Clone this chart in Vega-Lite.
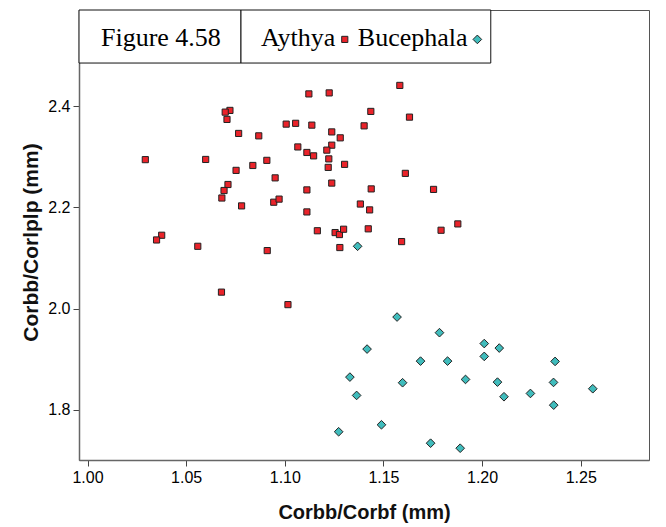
{
  "$schema": "https://vega.github.io/schema/vega-lite/v6.json",
  "width": 570,
  "height": 450,
  "autosize": "none",
  "padding": {"left": 79, "top": 10, "right": 17, "bottom": 67},
  "background": "white",
  "config": {
    "view": {"stroke": "#555555", "strokeWidth": 1},
    "axis": {"grid": false, "domainColor": "#666666", "domainWidth": 1.5, "tickColor": "#444444", "tickSize": 6, "labelFont": "Liberation Sans", "labelFontSize": 16, "labelColor": "#000000", "titleFont": "Liberation Sans", "titleFontSize": 20, "titleFontWeight": "bold", "titleColor": "#111111"}
  },
  "datasets": {
    "points": [
      {"species": "Aythya", "corbf": 1.0293, "corlplp": 2.2942},
      {"species": "Aythya", "corbf": 1.0599, "corlplp": 2.2946},
      {"species": "Aythya", "corbf": 1.0909, "corlplp": 2.2928},
      {"species": "Aythya", "corbf": 1.0838, "corlplp": 2.2827},
      {"species": "Aythya", "corbf": 1.0753, "corlplp": 2.2730},
      {"species": "Aythya", "corbf": 1.0951, "corlplp": 2.2582},
      {"species": "Aythya", "corbf": 1.0712, "corlplp": 2.2451},
      {"species": "Aythya", "corbf": 1.0692, "corlplp": 2.2332},
      {"species": "Aythya", "corbf": 1.0681, "corlplp": 2.2184},
      {"species": "Aythya", "corbf": 1.0781, "corlplp": 2.2028},
      {"species": "Aythya", "corbf": 1.0944, "corlplp": 2.2101},
      {"species": "Aythya", "corbf": 1.0971, "corlplp": 2.2162},
      {"species": "Aythya", "corbf": 1.0376, "corlplp": 2.1448},
      {"species": "Aythya", "corbf": 1.0350, "corlplp": 2.1355},
      {"species": "Aythya", "corbf": 1.0559, "corlplp": 2.1230},
      {"species": "Aythya", "corbf": 1.0911, "corlplp": 2.1145},
      {"species": "Aythya", "corbf": 1.0679, "corlplp": 2.0324},
      {"species": "Aythya", "corbf": 1.1016, "corlplp": 2.0077},
      {"species": "Aythya", "corbf": 1.1122, "corlplp": 2.4241},
      {"species": "Aythya", "corbf": 1.1225, "corlplp": 2.4261},
      {"species": "Aythya", "corbf": 1.0722, "corlplp": 2.3915},
      {"species": "Aythya", "corbf": 1.0698, "corlplp": 2.3881},
      {"species": "Aythya", "corbf": 1.0707, "corlplp": 2.3737},
      {"species": "Aythya", "corbf": 1.1436, "corlplp": 2.3895},
      {"species": "Aythya", "corbf": 1.1007, "corlplp": 2.3644},
      {"species": "Aythya", "corbf": 1.1055, "corlplp": 2.3660},
      {"species": "Aythya", "corbf": 1.1137, "corlplp": 2.3624},
      {"species": "Aythya", "corbf": 1.1402, "corlplp": 2.3610},
      {"species": "Aythya", "corbf": 1.0766, "corlplp": 2.3460},
      {"species": "Aythya", "corbf": 1.0868, "corlplp": 2.3412},
      {"species": "Aythya", "corbf": 1.1238, "corlplp": 2.3490},
      {"species": "Aythya", "corbf": 1.1281, "corlplp": 2.3373},
      {"species": "Aythya", "corbf": 1.1238, "corlplp": 2.3228},
      {"species": "Aythya", "corbf": 1.1066, "corlplp": 2.3193},
      {"species": "Aythya", "corbf": 1.1112, "corlplp": 2.3084},
      {"species": "Aythya", "corbf": 1.1146, "corlplp": 2.3017},
      {"species": "Aythya", "corbf": 1.1213, "corlplp": 2.3130},
      {"species": "Aythya", "corbf": 1.1223, "corlplp": 2.2957},
      {"species": "Aythya", "corbf": 1.1220, "corlplp": 2.2789},
      {"species": "Aythya", "corbf": 1.1303, "corlplp": 2.2849},
      {"species": "Aythya", "corbf": 1.1112, "corlplp": 2.2344},
      {"species": "Aythya", "corbf": 1.1238, "corlplp": 2.2479},
      {"species": "Aythya", "corbf": 1.1438, "corlplp": 2.2364},
      {"species": "Aythya", "corbf": 1.1383, "corlplp": 2.2065},
      {"species": "Aythya", "corbf": 1.1430, "corlplp": 2.1949},
      {"species": "Aythya", "corbf": 1.1112, "corlplp": 2.1909},
      {"species": "Aythya", "corbf": 1.1165, "corlplp": 2.1537},
      {"species": "Aythya", "corbf": 1.1255, "corlplp": 2.1501},
      {"species": "Aythya", "corbf": 1.1277, "corlplp": 2.1462},
      {"species": "Aythya", "corbf": 1.1298, "corlplp": 2.1567},
      {"species": "Aythya", "corbf": 1.1423, "corlplp": 2.1575},
      {"species": "Aythya", "corbf": 1.1279, "corlplp": 2.1205},
      {"species": "Aythya", "corbf": 1.1583, "corlplp": 2.4409},
      {"species": "Aythya", "corbf": 1.1632, "corlplp": 2.3782},
      {"species": "Aythya", "corbf": 1.1611, "corlplp": 2.2671},
      {"species": "Aythya", "corbf": 1.1754, "corlplp": 2.2354},
      {"species": "Aythya", "corbf": 1.1877, "corlplp": 2.1672},
      {"species": "Aythya", "corbf": 1.1792, "corlplp": 2.1547},
      {"species": "Aythya", "corbf": 1.1592, "corlplp": 2.1323},
      {"species": "Bucephala", "corbf": 1.1369, "corlplp": 2.1230},
      {"species": "Bucephala", "corbf": 1.1569, "corlplp": 1.9832},
      {"species": "Bucephala", "corbf": 1.1784, "corlplp": 1.9523},
      {"species": "Bucephala", "corbf": 1.1417, "corlplp": 1.9199},
      {"species": "Bucephala", "corbf": 1.2011, "corlplp": 1.9308},
      {"species": "Bucephala", "corbf": 1.2087, "corlplp": 1.9219},
      {"species": "Bucephala", "corbf": 1.1688, "corlplp": 1.8961},
      {"species": "Bucephala", "corbf": 1.1825, "corlplp": 1.8961},
      {"species": "Bucephala", "corbf": 1.2011, "corlplp": 1.9054},
      {"species": "Bucephala", "corbf": 1.1330, "corlplp": 1.8645},
      {"species": "Bucephala", "corbf": 1.1597, "corlplp": 1.8534},
      {"species": "Bucephala", "corbf": 1.1916, "corlplp": 1.8599},
      {"species": "Bucephala", "corbf": 1.1364, "corlplp": 1.8283},
      {"species": "Bucephala", "corbf": 1.1490, "corlplp": 1.7703},
      {"species": "Bucephala", "corbf": 1.1273, "corlplp": 1.7565},
      {"species": "Bucephala", "corbf": 1.1739, "corlplp": 1.7339},
      {"species": "Bucephala", "corbf": 1.1889, "corlplp": 1.7240},
      {"species": "Bucephala", "corbf": 1.2370, "corlplp": 1.8955},
      {"species": "Bucephala", "corbf": 1.2078, "corlplp": 1.8546},
      {"species": "Bucephala", "corbf": 1.2362, "corlplp": 1.8540},
      {"species": "Bucephala", "corbf": 1.2561, "corlplp": 1.8415},
      {"species": "Bucephala", "corbf": 1.2111, "corlplp": 1.8257},
      {"species": "Bucephala", "corbf": 1.2245, "corlplp": 1.8322},
      {"species": "Bucephala", "corbf": 1.2363, "corlplp": 1.8091}
    ]
  },
  "layer": [
    {
      "data": {"name": "points"},
      "mark": {"type": "point", "filled": true, "opacity": 1, "stroke": "#222222", "strokeWidth": 1},
      "encoding": {
        "x": {"field": "corbf", "type": "quantitative", "title": "Corbb/Corbf (mm)",
              "scale": {"domain": [0.99569, 1.2846], "nice": false, "zero": false},
              "axis": {"values": [1.0, 1.05, 1.1, 1.15, 1.2, 1.25], "format": ".2f", "labelPadding": 3, "titleY": 58, "titleBaseline": "alphabetic"}},
        "y": {"field": "corlplp", "type": "quantitative", "title": "Corbb/Corlplp (mm)",
              "scale": {"domain": [1.7007, 2.5899], "nice": false, "zero": false},
              "axis": {"values": [1.8, 2.0, 2.2, 2.4], "format": ".1f", "labelPadding": 3, "titleX": -42, "titleY": 232, "titleFontSize": 21, "titleBaseline": "alphabetic"}},
        "color": {"field": "species", "type": "nominal", "scale": {"domain": ["Aythya", "Bucephala"], "range": ["#ea232a", "#40bcbc"]}, "legend": null},
        "shape": {"field": "species", "type": "nominal", "scale": {"domain": ["Aythya", "Bucephala"], "range": ["square", "diamond"]}, "legend": null},
        "size": {"field": "species", "type": "nominal", "scale": {"domain": ["Aythya", "Bucephala"], "range": [38, 75]}, "legend": null}
      }
    },
    {
      "data": {"values": [{}]},
      "mark": {"type": "rect", "fill": "white", "stroke": "#111111", "strokeWidth": 1},
      "encoding": {
        "x": {"datum": 0.99569, "type": "quantitative"},
        "x2": {"datum": 1.0778},
        "y": {"datum": 2.5899, "type": "quantitative"},
        "y2": {"datum": 2.4851}
      }
    },
    {
      "data": {"values": [{}]},
      "mark": {"type": "rect", "fill": "white", "stroke": "#111111", "strokeWidth": 1},
      "encoding": {
        "x": {"datum": 1.0778, "type": "quantitative"},
        "x2": {"datum": 1.2044},
        "y": {"datum": 2.5899, "type": "quantitative"},
        "y2": {"datum": 2.4851}
      }
    },
    {
      "data": {"values": [{}]},
      "mark": {"type": "text", "font": "Liberation Serif", "fontSize": 26, "align": "center", "baseline": "alphabetic", "color": "#000000", "text": "Figure 4.58"},
      "encoding": {
        "x": {"datum": 1.0372, "type": "quantitative"},
        "y": {"datum": 2.5193, "type": "quantitative"}
      }
    },
    {
      "data": {"values": [{}]},
      "mark": {"type": "text", "font": "Liberation Serif", "fontSize": 26, "align": "left", "baseline": "alphabetic", "color": "#000000", "text": "Aythya"},
      "encoding": {
        "x": {"datum": 1.088, "type": "quantitative"},
        "y": {"datum": 2.5193, "type": "quantitative"}
      }
    },
    {
      "data": {"values": [{}]},
      "mark": {"type": "text", "font": "Liberation Serif", "fontSize": 26, "align": "left", "baseline": "alphabetic", "color": "#000000", "text": "Bucephala"},
      "encoding": {
        "x": {"datum": 1.137, "type": "quantitative"},
        "y": {"datum": 2.5193, "type": "quantitative"}
      }
    },
    {
      "data": {"values": [{}]},
      "mark": {"type": "point", "filled": true, "opacity": 1, "stroke": "#222222", "strokeWidth": 1},
      "encoding": {
        "x": {"datum": 1.1304, "type": "quantitative"},
        "y": {"datum": 2.5318, "type": "quantitative"},
        "color": {"datum": "Aythya", "type": "nominal"},
        "shape": {"datum": "Aythya", "type": "nominal"},
        "size": {"datum": "Aythya", "type": "nominal"}
      }
    },
    {
      "data": {"values": [{}]},
      "mark": {"type": "point", "filled": true, "opacity": 1, "stroke": "#222222", "strokeWidth": 1},
      "encoding": {
        "x": {"datum": 1.1976, "type": "quantitative"},
        "y": {"datum": 2.5318, "type": "quantitative"},
        "color": {"datum": "Bucephala", "type": "nominal"},
        "shape": {"datum": "Bucephala", "type": "nominal"},
        "size": {"datum": "Bucephala", "type": "nominal"}
      }
    }
  ]
}
